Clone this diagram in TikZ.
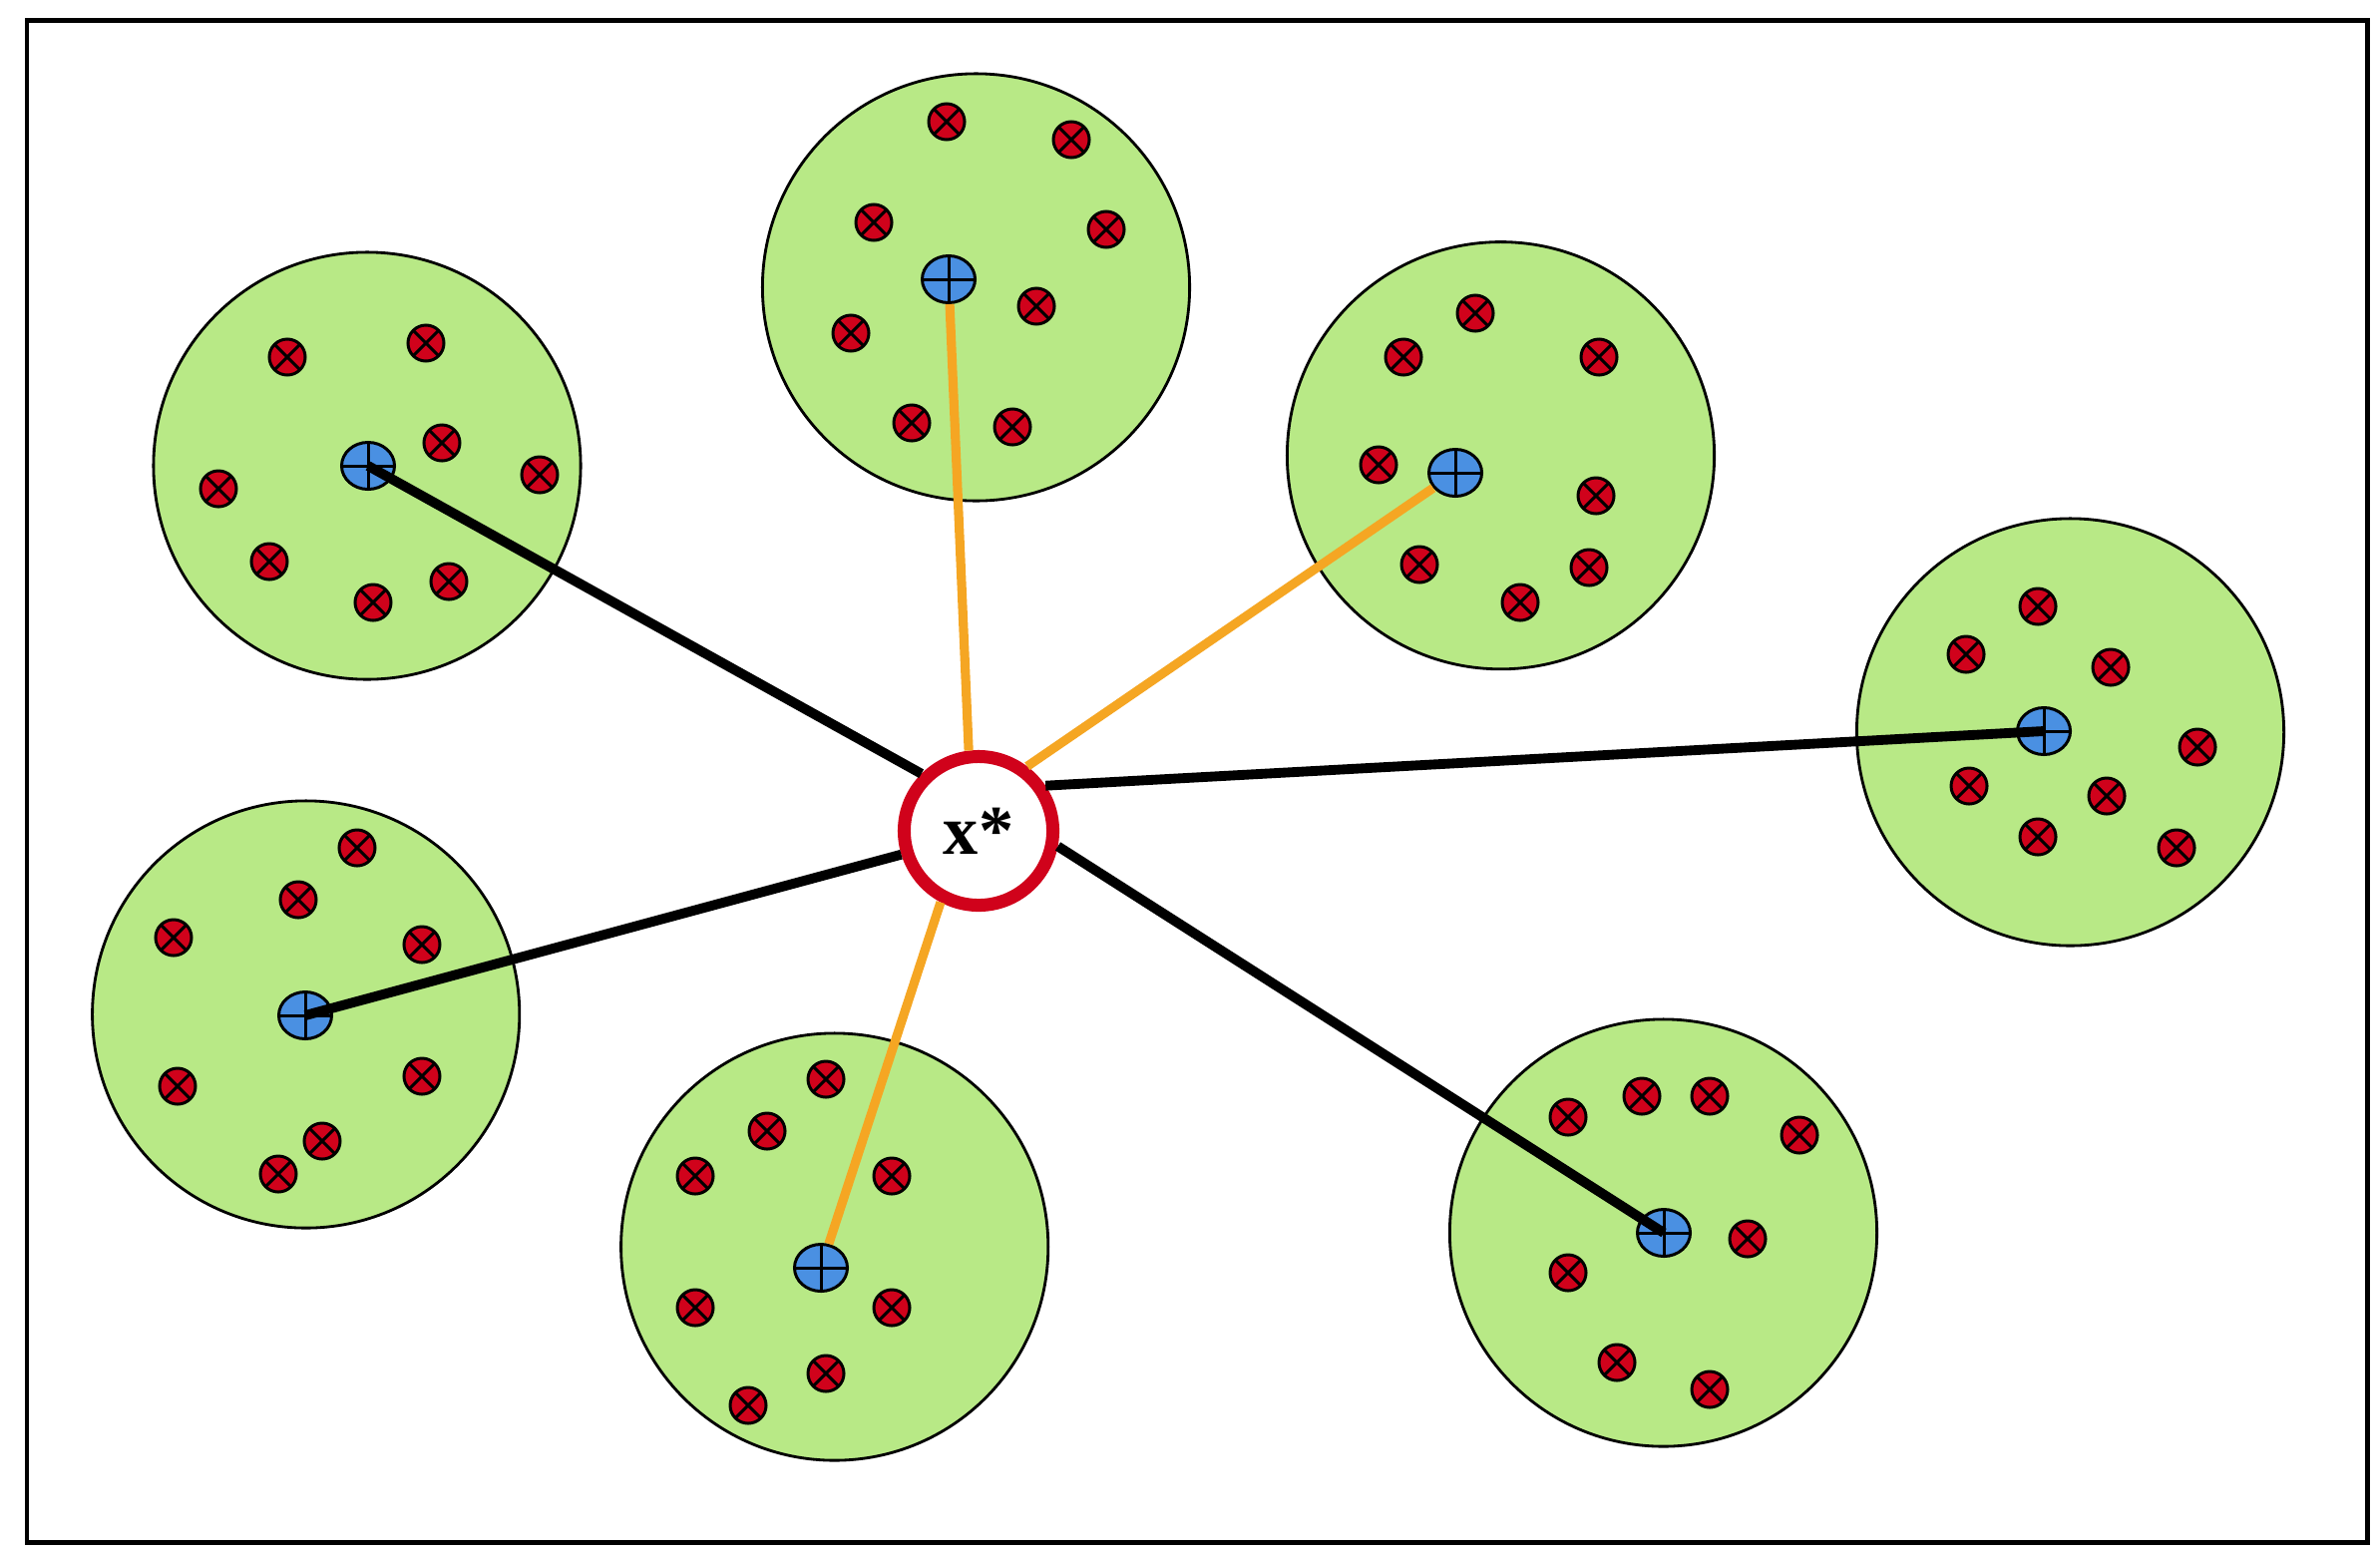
\documentclass[tikz,border=0pt]{standalone}
\usepackage{fontspec}
\setmainfont{Liberation Serif}
\usetikzlibrary{shapes.geometric}
\definecolor{cgreen}{HTML}{B8E986}
\definecolor{cred}{HTML}{D0021B}
\definecolor{cblue}{HTML}{4A90E2}
\definecolor{corange}{HTML}{F5A623}
\tikzset{
 cluster/.style={circle, draw=black, fill=cgreen, line width=0.8pt, minimum size=4.28cm, inner sep=0pt},
 negnode/.style={circle, draw=black, fill=cred, line width=0.85pt, minimum size=0.36cm, inner sep=0pt,
   path picture={\draw[line width=0.85pt] (path picture bounding box.north west) -- (path picture bounding box.south east)
     (path picture bounding box.north east) -- (path picture bounding box.south west);}},
 posnode/.style={ellipse, draw=black, fill=cblue, line width=0.85pt, minimum width=0.53cm, minimum height=0.47cm, inner sep=0pt,
   path picture={\draw[line width=0.85pt] (path picture bounding box.north) -- (path picture bounding box.south)
     (path picture bounding box.west) -- (path picture bounding box.east);}},
 optnode/.style={circle, draw=cred, fill=white, line width=3.7pt, minimum size=1.49cm, inner sep=0pt,
   font=\fontsize{20}{20}\selectfont\bfseries},
 blackedge/.style={line width=2.8pt, draw=black},
 orangeedge/.style={line width=2.6pt, draw=corange},
 framebox/.style={draw=black, line width=1.42pt}
}
\begin{document}
\begin{tikzpicture}[x=0.01cm,y=-0.01cm]
\useasboundingbox (0,0) rectangle (2386,1557);
\node[framebox, rectangle, minimum width=23.455cm, minimum height=15.248cm, inner sep=0pt, anchor=north west] (fr) at (24.5,18.2) {};
% clusters
\node[cluster] (k1) at (368,467) {};
\node[cluster] (k2) at (978.5,288) {};
\node[cluster] (k3) at (1504.5,456.7) {};
\node[cluster] (k4) at (2075.5,734) {};
\node[cluster] (k5) at (306.7,1017) {};
\node[cluster] (k6) at (836.7,1250) {};
\node[cluster] (k7) at (1667.5,1236) {};
% negatives
\foreach \p [count=\i] in {{288,358},{427,344},{443,444},{541,476},{219,490},{270,563},{374,604},{450,583}}
  \node[negnode] (ra\i) at (\p) {};
\foreach \p [count=\i] in {{949,122},{1074,140},{876,223},{1109,230},{1039,307},{853,334},{914,424},{1015,428}}
  \node[negnode] (rb\i) at (\p) {};
\foreach \p [count=\i] in {{1479,314},{1407,358},{1603,358},{1382,466},{1600,497},{1423,566},{1593,569},{1524,604}}
  \node[negnode] (rc\i) at (\p) {};
\foreach \p [count=\i] in {{2043,608},{1971,656},{2116,669},{2203,749},{1974,788},{2112,798},{2043,839},{2182,850}}
  \node[negnode] (rd\i) at (\p) {};
\foreach \p [count=\i] in {{358,850},{299,902},{174,940},{423,947},{178,1089},{423,1079},{323,1144},{279,1177}}
  \node[negnode] (re\i) at (\p) {};
\foreach \p [count=\i] in {{828,1082},{769,1134},{697,1179},{894,1179},{697,1311},{894,1311},{828,1377},{750,1409}}
  \node[negnode] (rf\i) at (\p) {};
\foreach \p [count=\i] in {{1572,1120},{1646,1099},{1714,1099},{1804,1138},{1752,1242},{1572,1276},{1621,1366},{1714,1393}}
  \node[negnode] (rg\i) at (\p) {};
% positives
\node[posnode] (b1) at (369,467) {};
\node[posnode] (b2) at (951,280) {};
\node[posnode] (b3) at (1459,474) {};
\node[posnode] (b4) at (2049,733) {};
\node[posnode] (b5) at (306,1018) {};
\node[posnode] (b6) at (823,1271) {};
\node[posnode] (b7) at (1668,1236) {};
% center
\node[optnode] (c) at (981,833) {x*};
% connectors
\draw[orangeedge] (c.97) -- (b2);
\draw[orangeedge] (c.53) -- (b3);
\draw[orangeedge] (c.242) -- (b6);
\draw[blackedge] (c.135) -- (b1.center);
\draw[blackedge] (c.34) -- (b4.center);
\draw[blackedge] (c.197) -- (b5.center);
\draw[blackedge] (c.-11) -- (b7.center);
\end{tikzpicture}
\end{document}
